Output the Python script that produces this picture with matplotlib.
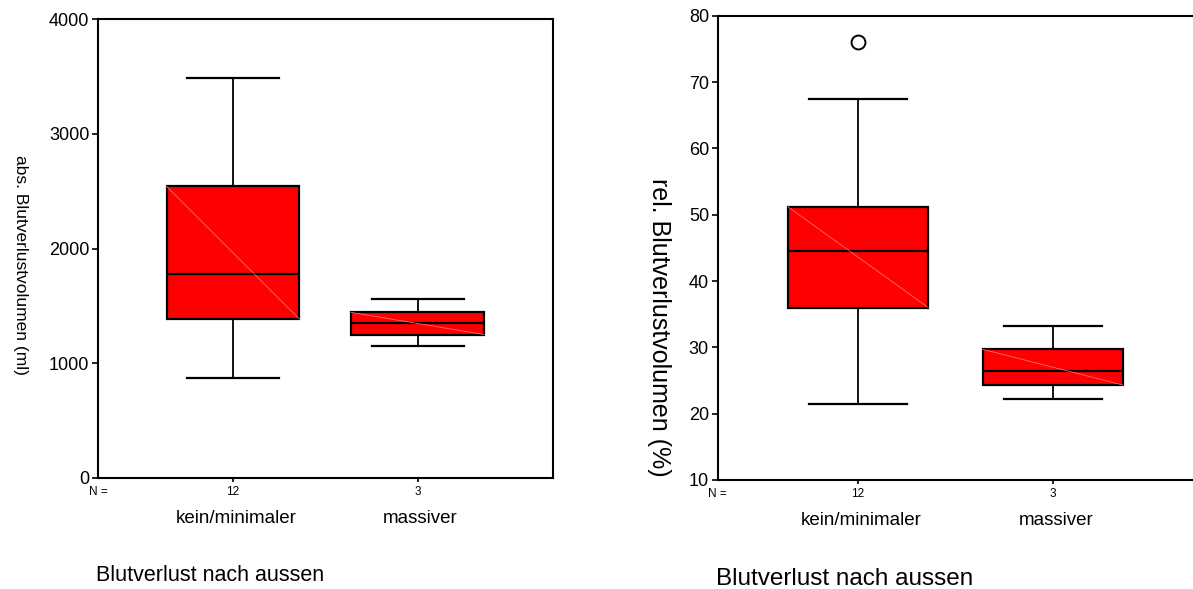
import matplotlib
matplotlib.use('Agg')
import matplotlib.pyplot as plt

plt.rcParams['font.family'] = ['Liberation Sans', 'DejaVu Sans']

# Groups and case numbers
groups = ['kein/minimaler', 'massiver']
n_cases = [12, 3]

# Absolute blood loss volume (ml)
abs_whislo = [872, 1150]
abs_q1 = [1385, 1250]
abs_med = [1774, 1348]
abs_q3 = [2542, 1443]
abs_whishi = [3487, 1557]
abs_fliers = [[], []]
abs_ticks = [0, 1000, 2000, 3000, 4000]

# Relative blood loss volume (%)
rel_whislo = [21.4, 22.2]
rel_q1 = [36.0, 24.3]
rel_med = [44.6, 26.5]
rel_q3 = [51.2, 29.7]
rel_whishi = [67.5, 33.2]
rel_fliers = [[76.0], []]
rel_ticks = [10, 20, 30, 40, 50, 60, 70, 80]

W, H = 1193, 589
BOX_W = 0.72


def plot_panel(fig, rect, xlim, ylim, yticks, whislo, q1, med, q3, whishi, fliers):
	ax = fig.add_axes(rect)
	stats = []
	for i in range(len(groups)):
		stats.append(dict(whislo=whislo[i], q1=q1[i], med=med[i], q3=q3[i],
						  whishi=whishi[i], fliers=fliers[i]))
	pos = [1, 2]
	ax.bxp(stats, positions=pos, widths=BOX_W, capwidths=0.5, patch_artist=True,
		   boxprops=dict(facecolor='#ff0000', edgecolor='k', linewidth=1.6),
		   medianprops=dict(color='k', linewidth=1.6),
		   whiskerprops=dict(color='k', linewidth=1.3),
		   capprops=dict(color='k', linewidth=1.6),
		   flierprops=dict(marker='o', markerfacecolor='none', markeredgecolor='k',
						   markersize=10, markeredgewidth=1.4))
	# faint diagonal across each box
	for i in range(len(groups)):
		ax.plot([pos[i] - BOX_W / 2, pos[i] + BOX_W / 2], [q3[i], q1[i]],
				color='#ff8080', linewidth=0.5, zorder=2.5)

	ax.set_xlim(xlim)
	ax.set_ylim(ylim)
	ax.set_yticks(yticks)
	ax.set_yticklabels([str(t) for t in yticks], fontsize=13)
	ax.set_xticks(pos)
	ax.set_xticklabels([str(n) for n in n_cases], fontsize=8.5)
	ax.tick_params(axis='y', direction='out', length=4.3, width=1.2, pad=2)
	ax.tick_params(axis='x', direction='out', length=3, width=1.2, pad=3)
	for sp in ax.spines.values():
		sp.set_linewidth(1.5)

	ax.annotate('N =', xy=(xlim[0], 0), xycoords=('data', 'axes fraction'),
				xytext=(0, -6), textcoords='offset points',
				ha='center', va='top', fontsize=8.5)
	for i in range(len(groups)):
		ax.annotate(groups[i], xy=(pos[i], 0), xycoords=('data', 'axes fraction'),
					xytext=(2, -29), textcoords='offset points',
					ha='center', va='center', fontsize=13.5)
	return ax


fig = plt.figure(figsize=(W / 100, H / 100), dpi=100)

# left panel: absolute volume
plot_panel(fig, [98 / W, (H - 478) / H, 454.7 / W, 459 / H], (0.269, 2.731), (0, 4000),
		   abs_ticks, abs_whislo, abs_q1, abs_med, abs_q3, abs_whishi, abs_fliers)
fig.text(20 / W, 1 - 265 / H, 'abs. Blutverlustvolumen (ml)', rotation=-90,
		 ha='center', va='center', fontsize=12.5)
fig.text(96 / W, 1 - 580.7 / H, 'Blutverlust nach aussen', ha='left', va='baseline',
		 fontsize=15.5)

# right panel: relative volume (runs off the right edge)
plot_panel(fig, [717.7 / W, (H - 480) / H, 477.3 / W, 464.3 / H], (0.2805, 2.728), (10, 80),
		   rel_ticks, rel_whislo, rel_q1, rel_med, rel_q3, rel_whishi, rel_fliers)
fig.text(659 / W, 1 - 327 / H, 'rel. Blutverlustvolumen (%)', rotation=-90,
		 ha='center', va='center', fontsize=18)
fig.text(716 / W, 1 - 585 / H, 'Blutverlust nach aussen', ha='left', va='baseline',
		 fontsize=17.5)

fig.savefig('out.png', dpi=100)
plt.close(fig)
